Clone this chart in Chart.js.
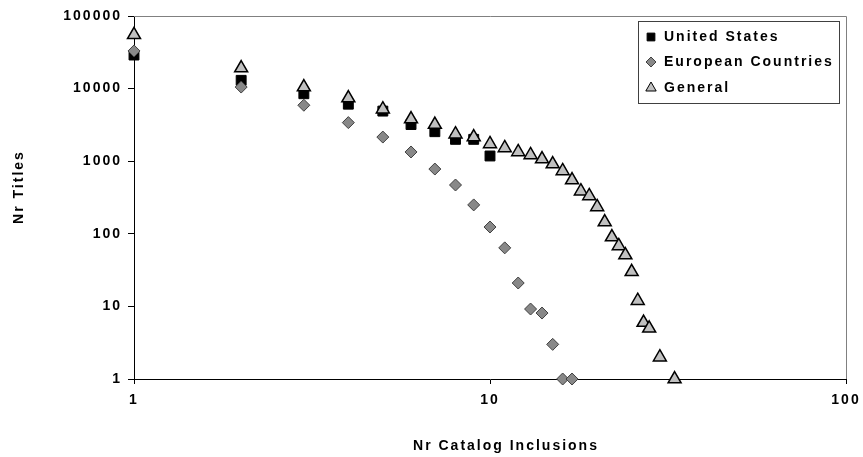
<!DOCTYPE html>
<html>
<head>
<meta charset="utf-8">
<title>Nr Titles vs Nr Catalog Inclusions</title>
<script src="https://cdn.jsdelivr.net/npm/chart.js@4.4.1/dist/chart.umd.min.js"></script>
<style>
  html, body { margin: 0; padding: 0; background: #fff; }
  #wrap { width: 863px; height: 457px; }
</style>
</head>
<body>
<div id="wrap"><canvas id="chart" width="863" height="457"></canvas></div>
<script>
// --- data ---
const usX = [1, 2, 3, 4, 5, 6, 7, 8, 9, 10];
const usY = [29000, 13000, 8500, 6100, 4900, 3200, 2550, 2000, 2000, 1180];

const euX = [1, 2, 3, 4, 5, 6, 7, 8, 9, 10, 11, 12, 13, 14, 15, 16, 17];
const euY = [33000, 10500, 5900, 3400, 2150, 1340, 780, 470, 250, 124, 64, 21, 9.2, 8.1, 3, 1, 1];

const genX = [1, 2, 3, 4, 5, 6, 7, 8, 9, 10, 11, 12, 13, 14, 15, 16, 17, 18, 19, 20,
              21, 22, 23, 24, 25, 26, 27, 28, 30, 33];
const genY = [55000, 19200, 10500, 7400, 5200, 3800, 3200, 2360, 2150, 1730, 1520, 1340, 1220, 1070, 915,
              733, 550, 387, 332, 234, 145, 90, 68, 51, 30, 12, 6, 5, 2, 1];

const xTicks = [1, 10, 100];
const yTicks = [1, 10, 100, 1000, 10000, 100000];

const seriesNames = ['United States', 'European Countries', 'General'];
const xTitle = 'Nr Catalog Inclusions';
const yTitle = 'Nr Titles';

const FONT = 'bold 14px "Liberation Sans", Arial, sans-serif';
const SPACING = '2px';

const pts = (xs, ys) => xs.map((x, i) => ({ x: x, y: ys[i] }));

// letter spacing so the bold Arial text is as wide as in the original
const spacingPlugin = {
    id: 'spacing',
    beforeLayout(chart) { chart.ctx.letterSpacing = SPACING; },
    beforeDraw(chart) { chart.ctx.letterSpacing = SPACING; }
};

// gray frame on top / right of plot area
const framePlugin = {
    id: 'frame',
    beforeDatasetsDraw(chart) {
        const a = chart.chartArea;
        const ctx = chart.ctx;
        ctx.save();
        ctx.strokeStyle = '#808080';
        ctx.lineWidth = 1;
        ctx.beginPath();
        ctx.moveTo(a.left, a.top + 0.5);
        ctx.lineTo(a.right + 0.5, a.top + 0.5);
        ctx.lineTo(a.right + 0.5, a.bottom);
        ctx.stroke();
        ctx.restore();
    }
};

// axis titles + boxed legend inside the plot
const labelsPlugin = {
    id: 'labels',
    afterDraw(chart) {
        const ctx = chart.ctx;
        ctx.save();
        ctx.letterSpacing = SPACING;
        ctx.font = FONT;
        ctx.fillStyle = '#000';
        ctx.textBaseline = 'middle';

        ctx.textAlign = 'center';
        ctx.fillText(xTitle, 506, 446);

        ctx.save();
        ctx.translate(19, 187);
        ctx.rotate(-Math.PI / 2);
        ctx.fillText(yTitle, 0, 0);
        ctx.restore();

        // legend box
        const bx = 638, by = 21, bw = 201, bh = 82;
        ctx.fillStyle = '#fff';
        ctx.fillRect(bx, by, bw, bh);
        ctx.strokeStyle = '#404040';
        ctx.lineWidth = 1;
        ctx.strokeRect(bx + 0.5, by + 0.5, bw, bh);

        const rows = [37, 62, 88];
        chart.data.datasets.forEach((ds, i) => {
            const y = rows[i];
            ctx.fillStyle = ds.backgroundColor;
            ctx.strokeStyle = ds.borderColor;
            ctx.lineWidth = 1;
            Chart.helpers.drawPoint(ctx, {
                pointStyle: ds.pointStyle,
                radius: ds.legendRadius,
                borderWidth: 1,
                rotation: 0
            }, 651, y);
            ctx.fillStyle = '#000';
            ctx.textAlign = 'left';
            ctx.fillText(ds.label, 664, y);
        });
        ctx.restore();
    }
};

const ctx = document.getElementById('chart').getContext('2d');
new Chart(ctx, {
    type: 'scatter',
    data: {
        datasets: [{
            label: seriesNames[0],
            data: pts(usX, usY),
            pointStyle: 'rect',
            pointRadius: 7,
            legendRadius: 5.5,
            backgroundColor: '#000',
            borderColor: '#000',
            borderWidth: 1,
            order: 2,
            clip: false
        }, {
            label: seriesNames[1],
            data: pts(euX, euY),
            pointStyle: 'rectRot',
            pointRadius: 6,
            legendRadius: 5,
            backgroundColor: '#888888',
            borderColor: '#404040',
            borderWidth: 1,
            order: 1,
            clip: false
        }, {
            label: seriesNames[2],
            data: pts(genX, genY),
            pointStyle: 'triangle',
            pointRadius: 7.5,
            legendRadius: 6,
            backgroundColor: '#c0c0c0',
            borderColor: '#000',
            borderWidth: 1.5,
            order: 0,
            clip: false
        }]
    },
    options: {
        responsive: false,
        animation: false,
        events: [],
        layout: { padding: { top: 16, right: 17, left: 0, bottom: 0 } },
        plugins: {
            legend: { display: false },
            tooltip: { enabled: false }
        },
        scales: {
            x: {
                type: 'logarithmic',
                min: 1,
                max: 100,
                afterBuildTicks: (s) => { s.ticks = xTicks.map(v => ({ value: v })); },
                afterFit: (s) => { s.height = 78; s.paddingLeft = 0; s.paddingRight = 0; },
                border: { display: true, color: '#000', width: 1 },
                grid: { display: true, drawOnChartArea: false, drawTicks: true, tickLength: 5, color: '#000' },
                ticks: {
                    color: '#000',
                    font: { family: '"Liberation Sans", Arial, sans-serif', size: 14, weight: 'bold' },
                    padding: 8,
                    maxRotation: 0,
                    autoSkip: false,
                    callback: (v) => String(v)
                }
            },
            y: {
                type: 'logarithmic',
                min: 1,
                max: 100000,
                afterBuildTicks: (s) => { s.ticks = yTicks.map(v => ({ value: v })); },
                afterFit: (s) => { s.width = 134; s.paddingTop = 0; s.paddingBottom = 0; },
                border: { display: true, color: '#000', width: 1 },
                grid: { display: true, drawOnChartArea: false, drawTicks: true, tickLength: 6, color: '#000' },
                ticks: {
                    color: '#000',
                    font: { family: '"Liberation Sans", Arial, sans-serif', size: 14, weight: 'bold' },
                    padding: 6,
                    autoSkip: false,
                    callback: (v) => String(v)
                }
            }
        }
    },
    plugins: [spacingPlugin, framePlugin, labelsPlugin]
});
</script>
</body>
</html>
